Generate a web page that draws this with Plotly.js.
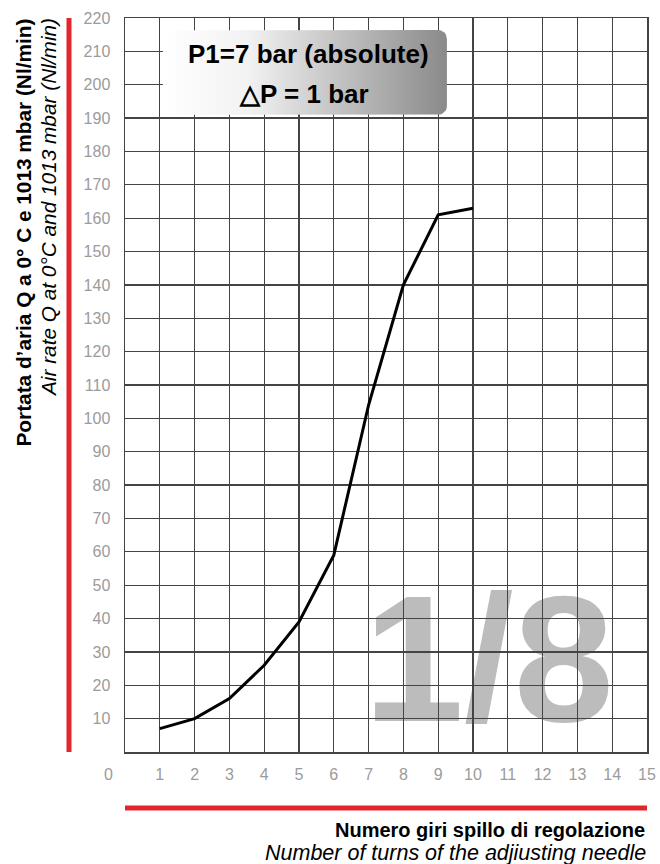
<!DOCTYPE html>
<html>
<head>
<meta charset="utf-8">
<script src="https://cdn.plot.ly/plotly-3.0.1.min.js"></script>
<style>html,body{margin:0;padding:0;background:#fff;}#chart{width:660px;height:864px;}</style>
</head>
<body>
<div id="chart"></div>
<script>
// ---- data ----
const turns = [1, 2, 3, 4, 5, 6, 7, 8, 9, 10];
const airRate = [7, 10, 16, 26, 39, 59, 104, 140, 161, 163];
const xTicks = [1, 2, 3, 4, 5, 6, 7, 8, 9, 10, 11, 12, 13, 14, 15];
const yTicks = [10, 20, 30, 40, 50, 60, 70, 80, 90, 100, 110, 120, 130, 140, 150, 160, 170, 180, 190, 200, 210, 220];
const yTitleIt = "Portata d’aria Q a 0° C e 1013 mbar (Nl/min)";
const yTitleEn = "Air rate Q at 0°C and 1013 mbar (Nl/min)";
const xTitleIt = "Numero giri spillo di regolazione";
const xTitleEn = "Number of turns of the adjiusting needle";
const boxLine1 = "P1=7 bar (absolute)";
const boxLine2 = "△P = 1 bar";
const bigLabel = "1/8";

// ---- rounded gradient box (decoration) ----
function roundedRect(x0, x1, y0, y1, rx, ry) {
  const xs = [], ys = [];
  const corners = [
    [x1 - rx, y1 - ry, 0, 90],
    [x0 + rx, y1 - ry, 90, 180],
    [x0 + rx, y0 + ry, 180, 270],
    [x1 - rx, y0 + ry, 270, 360]
  ];
  corners.forEach(c => {
    for (let a = c[2]; a <= c[3]; a += 15) {
      const r = a * Math.PI / 180;
      xs.push(c[0] + rx * Math.cos(r));
      ys.push(c[1] + ry * Math.sin(r));
    }
  });
  xs.push(xs[0]); ys.push(ys[0]);
  return {xs, ys};
}
const box = roundedRect(1.09, 9.25, 191, 216.4, 0.25, 2.6);

const FONT = "Liberation Sans, Arial, Helvetica, sans-serif";
const GRID = "#444444";

const traces = [
  {
    x: box.xs, y: box.ys, type: "scatter", mode: "lines",
    line: {width: 0, color: "rgba(0,0,0,0)"},
    fill: "toself",
    fillgradient: {type: "horizontal", colorscale: [[0, "#ffffff"], [0.3, "#f2f2f2"], [1, "#8a8a8a"]]},
    hoverinfo: "skip", showlegend: false
  },
  {
    x: turns, y: airRate, type: "scatter", mode: "lines",
    line: {color: "#000000", width: 3},
    showlegend: false
  }
];

const layout = {
  width: 660, height: 864,
  margin: {l: 125, r: 13, t: 18, b: 112},
  paper_bgcolor: "#ffffff", plot_bgcolor: "#ffffff",
  font: {family: FONT},
  showlegend: false,
  xaxis: {
    range: [0, 15], tickvals: xTicks, ticktext: xTicks.map(String),
    showgrid: true, gridcolor: GRID, gridwidth: 1.3,
    showline: true, linecolor: GRID, linewidth: 1.5, mirror: true,
    zeroline: false, ticks: "", ticklabelstandoff: 7,
    tickfont: {size: 16, color: "#9b9b9b", family: FONT}
  },
  yaxis: {
    range: [0, 220], tickvals: yTicks, ticktext: yTicks.map(String),
    showgrid: true, gridcolor: GRID, gridwidth: 1.3,
    showline: true, linecolor: GRID, linewidth: 1.5, mirror: true,
    zeroline: false, ticks: "", ticklabelstandoff: 10,
    tickfont: {size: 16, color: "#9b9b9b", family: FONT}
  },
  shapes: [
    {type: "line", xref: "paper", yref: "paper", x0: -0.1073, x1: -0.1073, y0: 0, y1: 1,
     line: {color: "#e3262b", width: 5}},
    {type: "line", xref: "paper", yref: "paper", x0: 0, x1: 1, y0: -0.0763, y1: -0.0763,
     line: {color: "#e3262b", width: 5}},
    {type: "rect", xref: "paper", yref: "paper", x0: 0.542, x1: 0.852, y0: 0.075, y1: 0.225,
     layer: "below", line: {width: 0}, fillcolor: "rgba(0,0,0,0)",
     label: {text: bigLabel, textposition: "middle center",
             font: {size: 180, color: "#bcbcbc", family: FONT, weight: 700}}}
  ],
  annotations: [
    {text: "0", xref: "paper", yref: "paper", x: -0.0307, y: -0.0313, xanchor: "center", yanchor: "middle",
     showarrow: false, font: {size: 16, color: "#9b9b9b", family: FONT}},
    {text: "<b>" + yTitleIt + "</b>", xref: "paper", yref: "paper", x: -0.1935, y: 1.002, textangle: -90,
     xanchor: "center", yanchor: "top", showarrow: false, font: {size: 20.8, color: "#000", family: FONT}},
    {text: "<i>" + yTitleEn + "</i>", xref: "paper", yref: "paper", x: -0.1475, y: 1.002, textangle: -90,
     xanchor: "center", yanchor: "top", showarrow: false, font: {size: 20.8, color: "#000", family: FONT}},
    {text: "<b>" + xTitleIt + "</b>", xref: "paper", yref: "paper", x: 1, y: -0.1063,
     xanchor: "right", yanchor: "middle", showarrow: false, font: {size: 20, color: "#000", family: FONT}},
    {text: "<i>" + xTitleEn + "</i>", xref: "paper", yref: "paper", x: 1.002, y: -0.1376,
     xanchor: "right", yanchor: "middle", showarrow: false, font: {size: 21.5, color: "#000", family: FONT}},
    {text: "<b>" + boxLine1 + "</b>", xref: "paper", yref: "paper", x: 0.3506, y: 0.951,
     xanchor: "center", yanchor: "middle", showarrow: false, font: {size: 26, color: "#000", family: FONT}},
    {text: "<b>" + boxLine2 + "</b>", xref: "paper", yref: "paper", x: 0.3420, y: 0.8965,
     xanchor: "center", yanchor: "middle", showarrow: false, font: {size: 26, color: "#000", family: FONT}}
  ]
};

Plotly.newPlot("chart", traces, layout, {displayModeBar: false, staticPlot: true});
</script>
</body>
</html>
